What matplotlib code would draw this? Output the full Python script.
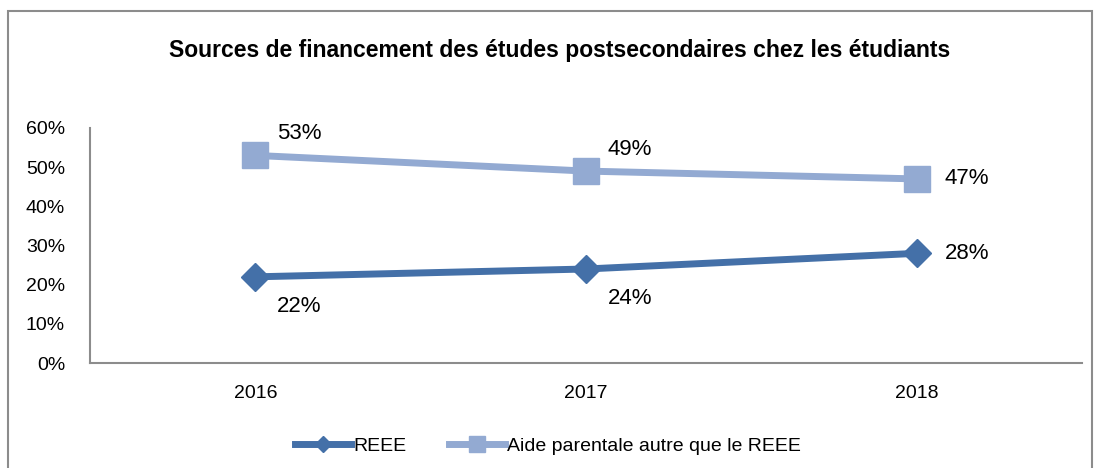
import matplotlib
matplotlib.use('Agg')
import matplotlib.pyplot as plt
from matplotlib.patches import Rectangle

years = ['2016', '2017', '2018']
reee = [22, 24, 28]
aide = [53, 49, 47]
yticks = [0, 10, 20, 30, 40, 50, 60]

plt.rcParams['font.family'] = ['Liberation Sans', 'DejaVu Sans']

fig = plt.figure(figsize=(10.96, 4.68), dpi=100)
ax = fig.add_axes([90 / 1096, 1 - 363 / 468, (1082 - 90) / 1096, (363 - 128) / 468])

# outer frame like the excel chart area
fig.patches.append(Rectangle((8 / 1096, -0.05), (1092 - 8) / 1096, 1.05 - 11 / 468,
                             transform=fig.transFigure, fill=False,
                             edgecolor='#8c8c8c', linewidth=1.5))

x = range(len(years))
c1 = '#4470a8'
c2 = '#93aad2'
ax.plot(x, reee, color=c1, lw=5, marker='D', ms=14, label='REEE')
ax.plot(x, aide, color=c2, lw=5, marker='s', ms=19, label='Aide parentale autre que le REEE')

# data labels
fs = 16
ax.annotate(f'{reee[0]}%', (0, reee[0]), xytext=(22, -30), textcoords='offset pixels', fontsize=fs, va='center')
ax.annotate(f'{reee[1]}%', (1, reee[1]), xytext=(22, -30), textcoords='offset pixels', fontsize=fs, va='center')
ax.annotate(f'{reee[2]}%', (2, reee[2]), xytext=(28, 0), textcoords='offset pixels', fontsize=fs, va='center')
ax.annotate(f'{aide[0]}%', (0, aide[0]), xytext=(22, 22), textcoords='offset pixels', fontsize=fs, va='center')
ax.annotate(f'{aide[1]}%', (1, aide[1]), xytext=(22, 22), textcoords='offset pixels', fontsize=fs, va='center')
ax.annotate(f'{aide[2]}%', (2, aide[2]), xytext=(28, 0), textcoords='offset pixels', fontsize=fs, va='center')

ax.set_xlim(-0.5, 2.5)
ax.set_ylim(0, 60)
ax.set_xticks(list(x))
ax.set_xticklabels(years, fontsize=14)
ax.set_yticks(yticks)
ax.set_yticklabels([f'{v}%' for v in yticks], fontsize=14)
ax.tick_params(length=0, pad=18)
ax.tick_params(axis='x', pad=16)
for s in ['top', 'right']:
    ax.spines[s].set_visible(False)
for s in ['left', 'bottom']:
    ax.spines[s].set_color('#8c8c8c')
    ax.spines[s].set_linewidth(1.5)

fig.text(0.511, 1 - 50 / 468, 'Sources de financement des études postsecondaires chez les étudiants',
         ha='center', va='center', fontsize=16.5, fontweight='bold')

fig.legend(loc='center', bbox_to_anchor=(0.5, 1 - 446 / 468), ncol=2, frameon=False,
           fontsize=14, handlelength=2.9, columnspacing=2.2, handletextpad=0.1, markerscale=0.6)

fig.savefig('out.png', dpi=100)
